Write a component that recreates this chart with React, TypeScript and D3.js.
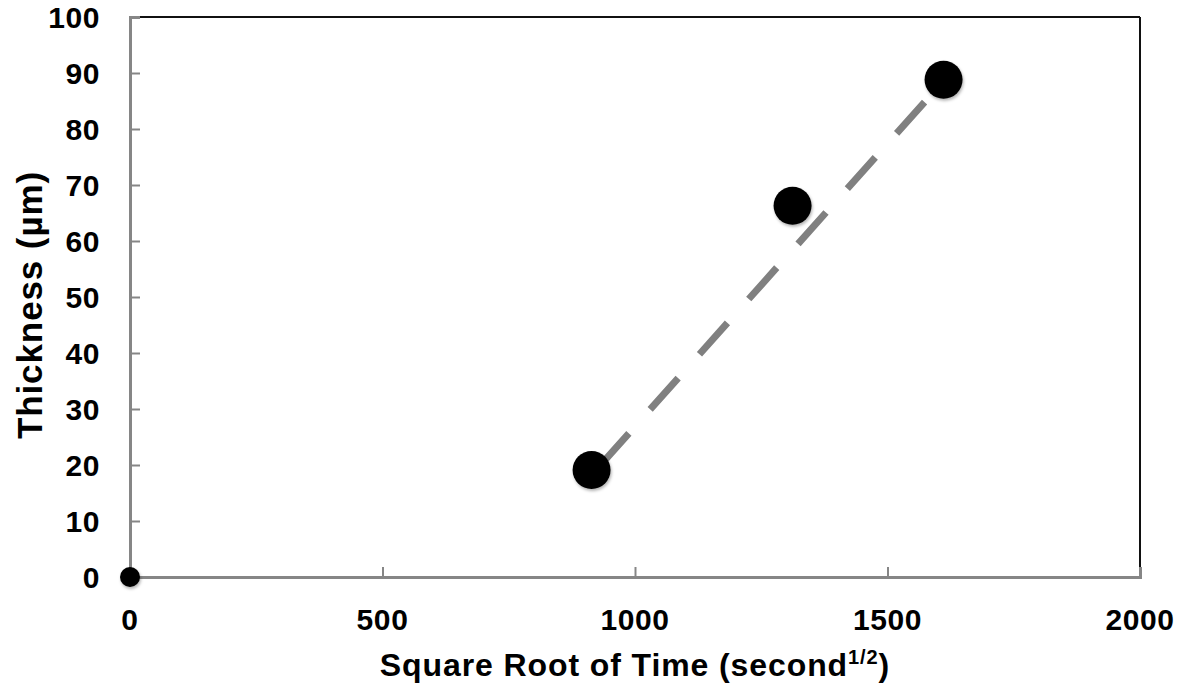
import React, { useRef, useEffect } from "react"
import * as d3 from "d3"

// measured points (sqrt time, thickness)
const sqrtTime = [0, 914, 1312, 1611]
const thickness = [0, 19.1, 66.3, 88.8]
const pointSize = [10, 19, 19, 19]

// dashed trend line ends
const trendX = [914, 1611]
const trendY = [18.2, 88.6]

const xTicks = [0, 500, 1000, 1500, 2000]
const yTicks = [0, 10, 20, 30, 40, 50, 60, 70, 80, 90, 100]

const W = 1188
const H = 687
const margin = { top: 17, right: 48, bottom: 110, left: 130 }
const font = "'Liberation Sans', Arial, sans-serif"

export default function App() {
  const ref = useRef<SVGSVGElement>(null)

  useEffect(() => {
    const svg = d3.select(ref.current)
    svg.selectAll("*").remove()

    const x = d3.scaleLinear().domain([0, 2000]).range([margin.left, W - margin.right])
    const y = d3.scaleLinear().domain([0, 100]).range([H - margin.bottom, margin.top])

    // frame: top/right dark, left/bottom gray
    svg.append("line")
      .attr("x1", x(0)).attr("x2", x(2000))
      .attr("y1", y(100)).attr("y2", y(100))
      .attr("stroke", "#111").attr("stroke-width", 2)
    svg.append("line")
      .attr("x1", x(2000)).attr("x2", x(2000))
      .attr("y1", y(100)).attr("y2", y(0))
      .attr("stroke", "#111").attr("stroke-width", 2)

    const yAxis = svg.append("g")
      .attr("transform", `translate(${x(0)},0)`)
      .call(d3.axisRight(y).tickValues(yTicks).tickSize(10).tickFormat(() => ""))
    yAxis.select(".domain").attr("stroke", "#868686").attr("stroke-width", 3)
    yAxis.selectAll(".tick line").attr("stroke", "#868686").attr("stroke-width", 2)

    const xAxis = svg.append("g")
      .attr("transform", `translate(0,${y(0)})`)
      .call(d3.axisTop(x).tickValues(xTicks).tickSize(10).tickFormat(() => ""))
    xAxis.select(".domain").attr("stroke", "#868686").attr("stroke-width", 3)
    xAxis.selectAll(".tick line").attr("stroke", "#868686").attr("stroke-width", 2)

    // tick labels
    svg.append("g")
      .selectAll("text")
      .data(yTicks)
      .join("text")
      .attr("x", x(0) - 30)
      .attr("y", d => y(d))
      .attr("dy", "0.36em")
      .attr("text-anchor", "end")
      .attr("letter-spacing", 0.6)
      .style("font", `bold 30px ${font}`)
      .text(d => d)

    svg.append("g")
      .selectAll("text")
      .data(xTicks)
      .join("text")
      .attr("x", d => x(d))
      .attr("y", y(0) + 53)
      .attr("text-anchor", "middle")
      .attr("letter-spacing", 0.6)
      .style("font", `bold 30px ${font}`)
      .text(d => d)

    // axis titles
    const xt = svg.append("text")
      .attr("x", 635)
      .attr("y", 676)
      .attr("text-anchor", "middle")
      .attr("letter-spacing", 0.9)
      .style("font", `bold 32px ${font}`)
    xt.append("tspan").text("Square Root of Time (second")
    xt.append("tspan").attr("dy", -12).style("font-size", "20px").text("1/2")
    xt.append("tspan").attr("dy", 12).text(")")

    svg.append("text")
      .attr("transform", `translate(42,305) rotate(-90)`)
      .attr("text-anchor", "middle")
      .attr("letter-spacing", 0.9)
      .style("font", `bold 35px ${font}`)
      .text("Thickness (µm)")

    // trend line
    svg.append("line")
      .attr("x1", x(trendX[0])).attr("y1", y(trendY[0]))
      .attr("x2", x(trendX[1])).attr("y2", y(trendY[1]))
      .attr("stroke", "#808080")
      .attr("stroke-width", 7)
      .attr("stroke-dasharray", "42 32")
      .attr("stroke-dashoffset", -14)

    // points
    const defs = svg.append("defs")
    defs.append("filter")
      .attr("id", "shadow")
      .attr("x", "-50%").attr("y", "-50%").attr("width", "200%").attr("height", "200%")
      .append("feDropShadow")
      .attr("dx", 1).attr("dy", 2).attr("stdDeviation", 1.5)
      .attr("flood-color", "#000").attr("flood-opacity", 0.3)

    svg.append("g")
      .selectAll("circle")
      .data(sqrtTime)
      .join("circle")
      .attr("cx", d => x(d))
      .attr("cy", (d, i) => y(thickness[i]))
      .attr("r", (d, i) => pointSize[i])
      .attr("fill", "#000")
      .attr("filter", "url(#shadow)")
  }, [])

  return (
    <svg
      ref={ref}
      width={W}
      height={H}
      style={{ position: "absolute", left: 0, top: 0, background: "#fff" }}
    ></svg>
  )
}
